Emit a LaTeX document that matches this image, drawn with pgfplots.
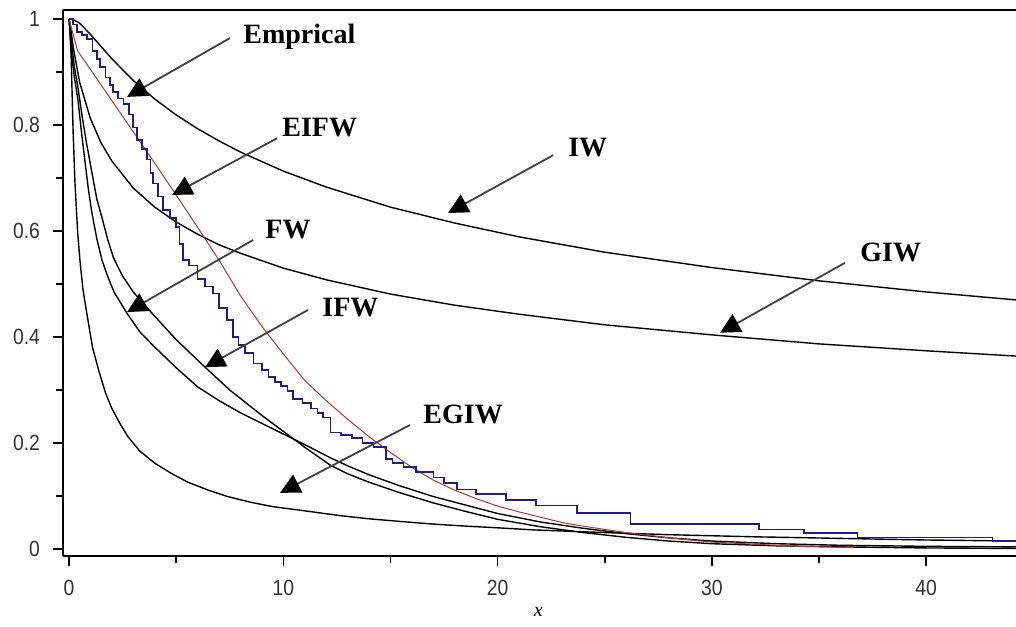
\documentclass[border=0pt]{standalone}
\usepackage{fontspec}
\setmainfont{Liberation Serif}
\setsansfont{Liberation Sans}[FakeStretch=0.88]
\usepackage{pgfplots}
\pgfplotsset{compat=1.18}
\usetikzlibrary{arrows.meta}
\definecolor{empblue}{RGB}{30,30,130}
\definecolor{fitred}{RGB}{175,55,45}
\begin{document}
\begin{tikzpicture}
\path[use as bounding box] (-31.5pt,-35pt) rectangle (476.5pt,278pt);
\begin{axis}[
  anchor=south west, at={(0,0)},
  scale only axis, width=476.5pt, height=273pt,
  xmin=-0.28, xmax=44.19, ymin=-0.0132, ymax=1.017,
  axis x line*=bottom, axis y line*=left,
  axis line style={line width=1pt},
  tick align=outside,
  xtick={0,10,20,30,40}, minor xtick={5,15,25,35},
  ytick={0,0.2,0.4,0.6,0.8,1}, minor ytick={0.1,0.3,0.5,0.7,0.9},
  major tick length=5pt, minor tick length=3.5pt,
  tick style={black, line width=0.8pt},
  ticklabel style={font=\sffamily\fontsize{11}{12}\selectfont, text=black!80},
  xticklabel style={yshift=-3.5pt},
  yticklabel style={xshift=-3pt, /pgf/number format/fixed},
  /pgf/number format/assume math mode=true,
  clip=false,
]
\draw[line width=1pt] (rel axis cs:0,1) -- (rel axis cs:1,1);
% IW
\addplot[black, line width=0.7pt] coordinates {
(0,1) (0.2,0.999) (0.5,0.992) (1,0.971) (1.5,0.948) (2,0.925) (3,0.884) (4,0.849) (5,0.819) (6,0.793) (7,0.770) (8,0.749) (10,0.713) (12,0.683) (15,0.645) (18,0.615) (21,0.589) (25,0.560) (30,0.531) (35,0.506) (40,0.485) (44.19,0.470)};
% GIW
\addplot[black, line width=0.7pt] coordinates {
(0,1) (0.05,0.991) (0.2,0.946) (0.5,0.880) (1,0.812) (1.5,0.766) (2,0.732) (3,0.681) (4,0.645) (5,0.617) (6,0.594) (7,0.574) (8,0.558) (10,0.530) (12,0.508) (15,0.481) (18,0.460) (21,0.443) (25,0.423) (30,0.404) (35,0.387) (40,0.374) (44.19,0.364)};
% FW
\addplot[black, line width=0.7pt] coordinates {
(0,1) (0.1,0.94) (0.25,0.89) (0.42,0.847) (0.6,0.78) (0.75,0.73) (0.9,0.68) (1.07,0.634) (1.3,0.585) (1.54,0.545) (1.8,0.515) (2.1,0.485) (2.7,0.445) (3.3,0.41) (4,0.381) (5,0.342) (6,0.306) (7,0.28) (8,0.257) (9,0.237) (10,0.217) (11,0.197) (12.2,0.172) (13,0.157) (14,0.140) (15.45,0.119) (17,0.099) (18.5,0.083) (20,0.067) (22,0.051) (24,0.039) (26,0.029) (28,0.021) (30,0.015) (33,0.010) (36,0.007) (40,0.005) (44.19,0.004)};
% IFW
\addplot[black, line width=0.7pt] coordinates {
(0,1) (0.1,0.96) (0.25,0.91) (0.42,0.87) (0.6,0.82) (0.8,0.77) (1.07,0.71) (1.3,0.66) (1.54,0.625) (1.8,0.585) (2.07,0.55) (2.5,0.515) (3,0.485) (3.87,0.445) (5,0.395) (6.35,0.343) (7.5,0.30) (9,0.252) (10,0.222) (11,0.192) (12.2,0.158) (13,0.142) (14,0.126) (15.45,0.106) (17,0.087) (18.5,0.071) (20,0.056) (22,0.042) (24,0.031) (26,0.022) (28,0.015) (30,0.010) (33,0.006) (36,0.004) (40,0.002) (44.19,0.001)};
% EGIW
\addplot[black, line width=0.7pt] coordinates {
(0,1) (0.05,0.98) (0.1,0.93) (0.19,0.79) (0.28,0.69) (0.4,0.6) (0.51,0.545) (0.65,0.49) (0.85,0.44) (1.1,0.38) (1.4,0.335) (1.7,0.295) (2,0.265) (2.4,0.235) (2.75,0.212) (3.3,0.185) (4,0.162) (4.8,0.142) (5.55,0.126) (6.5,0.111) (7.4,0.099) (8.5,0.088) (9.5,0.080) (11,0.072) (12.65,0.063) (14,0.057) (15.45,0.052) (17,0.047) (18.6,0.043) (20,0.040) (21.7,0.036) (25,0.031) (28,0.027) (32,0.023) (36,0.020) (40,0.017) (44.19,0.015)};
% EIFW fitted (red)
\addplot[fitred, line width=0.5pt] coordinates {
(0,1) (0.2,0.97) (0.4,0.94) (1,0.905) (2,0.846) (3,0.787) (4,0.728) (5,0.668) (6,0.607) (7,0.545) (8,0.478) (9,0.42) (10,0.368) (11,0.318) (12,0.28) (13,0.245) (14,0.212) (15,0.182) (16,0.154) (17,0.13) (18,0.111) (19,0.095) (20,0.081) (21,0.07) (22,0.06) (23,0.05) (24,0.043) (26,0.031) (28,0.021) (30,0.013) (32,0.009) (34,0.005) (36.6,0.003)};
% Empirical (blue step)
\addplot[empblue, line width=0.8pt, const plot] coordinates {
(0,1) (0.2,0.99) (0.37,0.975) (0.6,0.97) (0.84,0.962) (1.1,0.94) (1.3,0.925) (1.45,0.91) (1.7,0.89) (1.9,0.875) (2.05,0.862) (2.3,0.85) (2.55,0.84) (2.8,0.82) (3.0,0.795) (3.17,0.772) (3.4,0.755) (3.64,0.735) (3.8,0.71) (3.92,0.69) (4.15,0.665) (4.39,0.64) (4.7,0.625) (5.0,0.608) (5.15,0.575) (5.32,0.545) (5.6,0.535) (6.0,0.51) (6.35,0.495) (6.72,0.482) (7.0,0.455) (7.37,0.432) (7.65,0.40) (7.9,0.385) (8.2,0.37) (8.6,0.35) (9.0,0.338) (9.3,0.325) (9.6,0.315) (9.9,0.308) (10.2,0.298) (10.45,0.283) (10.9,0.275) (11.3,0.265) (11.6,0.257) (11.85,0.248) (12.2,0.22) (12.7,0.215) (13.2,0.21) (13.7,0.2) (14.2,0.193) (14.8,0.17) (15.1,0.162) (15.6,0.155) (16.2,0.145) (17.0,0.135) (17.5,0.125) (18.1,0.112) (19.0,0.104) (20.4,0.092) (21.8,0.082) (23.7,0.068) (26.2,0.047) (32.2,0.037) (34.3,0.030) (36.8,0.022) (43.1,0.015) (44.19,0.015)};
% labels and arrows
\tikzset{lab/.style={anchor=base west, inner sep=0pt, font=\bfseries\fontsize{14}{16}\selectfont},
 arr/.style={line width=0.9pt, black!75, -{Triangle[length=10pt,width=10pt,black]}}}
\node[lab] at (axis cs:8.12,0.953) {Emprical};
\draw[arr] (axis cs:7.51,0.964) -- (axis cs:2.71,0.853);
\node[lab] at (axis cs:9.94,0.779) {EIFW};
\draw[arr] (axis cs:9.71,0.775) -- (axis cs:4.81,0.668);
\node[lab] at (axis cs:23.28,0.740) {IW};
\draw[arr] (axis cs:22.59,0.743) -- (axis cs:17.69,0.634);
\node[lab] at (axis cs:9.15,0.585) {FW};
\draw[arr] (axis cs:8.59,0.583) -- (axis cs:2.71,0.447);
\node[lab] at (axis cs:11.81,0.438) {IFW};
\draw[arr] (axis cs:11.15,0.451) -- (axis cs:6.35,0.343);
\node[lab] at (axis cs:36.91,0.543) {GIW};
\draw[arr] (axis cs:36.21,0.540) -- (axis cs:30.38,0.408);
\node[lab] at (axis cs:16.52,0.236) {EGIW};
\draw[arr] (axis cs:15.91,0.234) -- (axis cs:9.85,0.106);
\node[font=\itshape\fontsize{10}{12}\selectfont, yshift=-28pt] at (axis cs:21.9,-0.0132) {x};
\end{axis}
\end{tikzpicture}
\end{document}
